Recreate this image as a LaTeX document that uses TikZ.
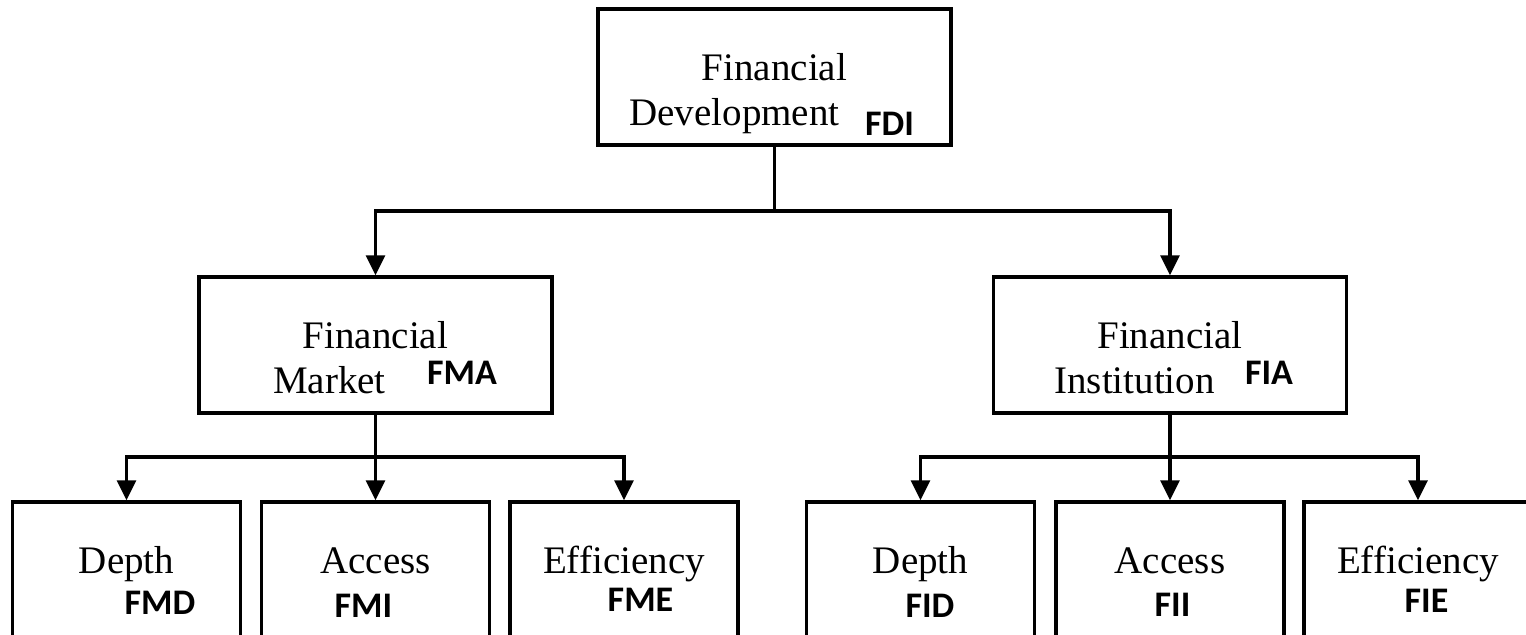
\documentclass[tikz,border=0pt]{standalone}
\usepackage{fontspec}
\setmainfont{Liberation Serif}
\newfontfamily\codefont{Carlito}
\usetikzlibrary{arrows.meta,positioning}
\newcommand{\twoline}[2]{\begin{tabular}[t]{@{}c@{}}#1\\#2\end{tabular}}
\tikzset{
  nodebox/.style={draw=black,line width=1.7pt,minimum height=68pt,inner sep=0pt,font=\fontsize{19.5}{22.5}\selectfont,text height=28pt,text depth=25pt},
  upperbox/.style={nodebox,minimum width=176.5pt},
  leafbox/.style={nodebox,minimum width=114pt},
  codetag/.style={font=\codefont\bfseries\fontsize{18}{18}\selectfont,inner sep=0pt},
  line/.style={-{Triangle[width=9.5pt,length=10pt]},draw=black,line width=1.6pt},
  trunk/.style={draw=black,line width=1.6pt}
}

\begin{document}
\begin{tikzpicture}[x=0.5pt,y=-0.5pt]
  \useasboundingbox (0,0) rectangle (1526,634);
  \clip (0,0) rectangle (1526,634);
  % boxes
  \node[upperbox] (fdi) at (774.5,77) {\twoline{Financial}{Development\hspace*{40pt}}};
  \node[upperbox] (fma) at (375.5,345) {\twoline{Financial}{Market\hspace*{46pt}}};
  \node[upperbox] (fia) at (1170,345) {\twoline{Financial}{Institution\hspace*{35.5pt}}};
  \node[leafbox] (fmd) at (126.5,570) {Depth};
  \node[leafbox] (fmi) at (375.5,570) {Access};
  \node[leafbox] (fme) at (624,570) {Efficiency};
  \node[leafbox] (fid) at (920.5,570) {Depth};
  \node[leafbox] (fii) at (1170,570) {Access};
  \node[leafbox] (fie) at (1418,570) {Efficiency};
  % index codes
  \node[codetag] (fdi-code) at (889.5,123.5) {FDI};
  \node[codetag] (fma-code) at (462,372.5) {FMA};
  \node[codetag] (fia-code) at (1269,373) {FIA};
  \node[codetag] (fmd-code) at (160,602.5) {FMD};
  \node[codetag] (fmi-code) at (363.5,606) {FMI};
  \node[codetag] (fme-code) at (640.5,600) {FME};
  \node[codetag] (fid-code) at (930,606) {FID};
  \node[codetag] (fii-code) at (1172.5,605) {FII};
  \node[codetag] (fie-code) at (1426.5,600.5) {FIE};
  % connectors
  \coordinate (fdi-split) at (774.5,211);
  \coordinate (fma-split) at (375.5,457);
  \coordinate (fia-split) at (1170,457);
  \draw[trunk] (fdi) -- (fdi-split);
  \draw[line] (fdi-split) -| (fma);
  \draw[line] (fdi-split) -| (fia);
  \draw[trunk] (fma) -- (fma-split);
  \draw[line] (fma-split) -| (fmd);
  \draw[line] (fma-split) -- (fmi);
  \draw[line] (fma-split) -| (fme);
  \draw[trunk] (fia) -- (fia-split);
  \draw[line] (fia-split) -| (fid);
  \draw[line] (fia-split) -- (fii);
  \draw[line] (fia-split) -| (fie);
\end{tikzpicture}
\end{document}
